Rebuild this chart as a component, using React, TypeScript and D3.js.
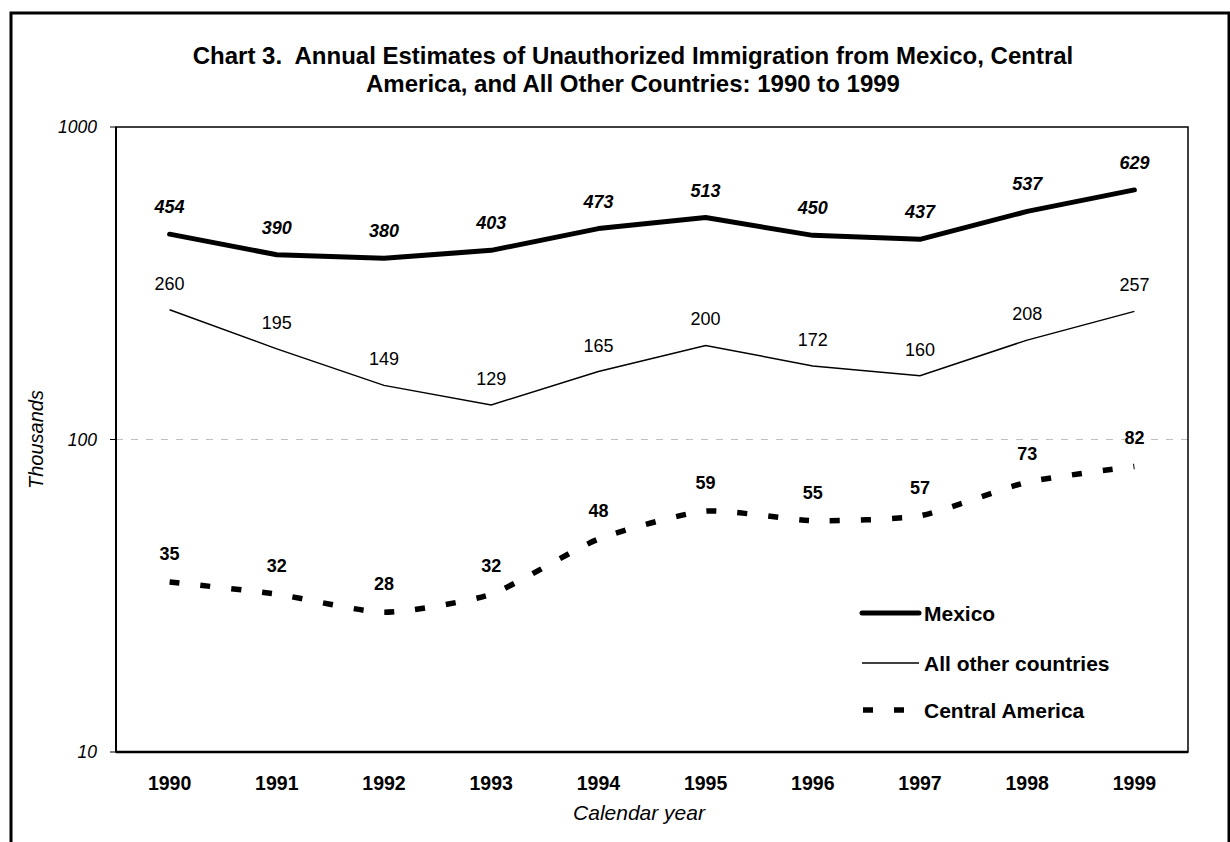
import React from "react";
import * as d3 from "d3";

const years = ["1990", "1991", "1992", "1993", "1994", "1995", "1996", "1997", "1998", "1999"];
const mexico = [454, 390, 380, 403, 473, 513, 450, 437, 537, 629];
const otherCountries = [260, 195, 149, 129, 165, 200, 172, 160, 208, 257];
const centralAmerica = [35, 32, 28, 32, 48, 59, 55, 57, 73, 82];
const yTicks = [10, 100, 1000];
const titleLines = [
  "Chart 3.  Annual Estimates of Unauthorized Immigration from Mexico, Central",
  "America, and All Other Countries: 1990 to 1999",
];

const W = 1230;
const H = 842;
const plot = { left: 116, top: 127, right: 1188, bottom: 752 };
const FONT = "'Liberation Sans', Arial, Helvetica, sans-serif";

export default function App() {
  const x = d3.scaleBand<string>().domain(years).range([plot.left, plot.right]);
  const cx = (i: number) => (x(years[i]) as number) + x.bandwidth() / 2;
  const y = d3.scaleLog().domain([10, 1000]).range([plot.bottom, plot.top]);

  const lineLinear = d3
    .line<number>()
    .x((_, i) => cx(i))
    .y((d) => y(d));
  const lineSmooth = d3
    .line<number>()
    .x((_, i) => cx(i))
    .y((d) => y(d))
    .curve(d3.curveCardinal.tension(0.4));

  return (
    <svg
      width={W}
      height={H}
      style={{ position: "absolute", left: 0, top: 0, background: "#fff" }}
      fontFamily={FONT}
    >
      <rect x={0} y={0} width={W} height={H} fill="#fff" />
      {/* outer frame */}
      <rect x={11} y={13} width={1218} height={900} fill="none" stroke="#000" strokeWidth={3} />

      {/* title */}
      {titleLines.map((t, i) => (
        <text
          key={i}
          x={633}
          y={64 + i * 28}
          textAnchor="middle"
          fontSize={24}
          fontWeight="bold"
          fill="#000"
          style={{ whiteSpace: "pre" }}
        >
          {t}
        </text>
      ))}

      {/* gridline at 100 */}
      <line
        x1={plot.left}
        x2={plot.right}
        y1={y(100)}
        y2={y(100)}
        stroke="#c0c0c0"
        strokeWidth={1}
        strokeDasharray="7,8"
      />

      {/* plot box */}
      <rect
        x={plot.left}
        y={plot.top}
        width={plot.right - plot.left}
        height={plot.bottom - plot.top}
        fill="none"
        stroke="#000"
        strokeWidth={1.5}
      />
      <line x1={plot.left} x2={plot.left} y1={plot.top} y2={plot.bottom} stroke="#000" strokeWidth={2} />
      <line x1={plot.left} x2={plot.right} y1={plot.bottom} y2={plot.bottom} stroke="#000" strokeWidth={2.5} />

      {/* y ticks */}
      {yTicks.map((t) => (
        <g key={t}>
          <line x1={plot.left - 6} x2={plot.left} y1={y(t)} y2={y(t)} stroke="#000" strokeWidth={1} />
          <text
            x={97}
            y={y(t) + 6}
            textAnchor="end"
            fontSize={17.5}
            fontStyle="italic"
            fill="#000"
          >
            {t}
          </text>
        </g>
      ))}

      {/* x labels */}
      {years.map((yr, i) => (
        <text key={yr} x={cx(i)} y={790} textAnchor="middle" fontSize={19.5} fontWeight="bold" fill="#000">
          {yr}
        </text>
      ))}

      {/* axis titles */}
      <text x={639} y={820} textAnchor="middle" fontSize={21} fontStyle="italic" fill="#000">
        Calendar year
      </text>
      <text
        transform={`translate(43,${(plot.top + plot.bottom) / 2}) rotate(-90)`}
        textAnchor="middle"
        fontSize={20}
        fontStyle="italic"
        fill="#000"
      >
        Thousands
      </text>

      {/* series lines */}
      <path d={lineLinear(mexico) || ""} fill="none" stroke="#000" strokeWidth={5} strokeLinejoin="round" strokeLinecap="round" />
      <path d={lineLinear(otherCountries) || ""} fill="none" stroke="#000" strokeWidth={1.5} />
      <path d={lineSmooth(centralAmerica) || ""} fill="none" stroke="#000" strokeWidth={5.5} strokeDasharray="10,21" />

      {/* data labels */}
      {mexico.map((v, i) => (
        <text key={"m" + i} x={cx(i)} y={y(v) - 21} textAnchor="middle" fontSize={18} fontWeight="bold" fontStyle="italic" fill="#000">
          {v}
        </text>
      ))}
      {otherCountries.map((v, i) => (
        <text key={"o" + i} x={cx(i)} y={y(v) - 20} textAnchor="middle" fontSize={18} fill="#000">
          {v}
        </text>
      ))}
      {centralAmerica.map((v, i) => (
        <text key={"c" + i} x={cx(i)} y={y(v) - 22} textAnchor="middle" fontSize={18} fontWeight="bold" fill="#000">
          {v}
        </text>
      ))}

      {/* legend */}
      <line x1={862} x2={919} y1={613} y2={613} stroke="#000" strokeWidth={5} strokeLinecap="round" />
      <text x={924} y={621} fontSize={21} fontWeight="bold" fill="#000">Mexico</text>
      <line x1={862} x2={919} y1={663} y2={663} stroke="#000" strokeWidth={1.5} />
      <text x={924} y={671} fontSize={21} fontWeight="bold" fill="#000">All other countries</text>
      <line x1={863} x2={919} y1={710} y2={710} stroke="#000" strokeWidth={5.5} strokeDasharray="10,21" />
      <text x={924} y={718} fontSize={21} fontWeight="bold" fill="#000">Central America</text>
    </svg>
  );
}
